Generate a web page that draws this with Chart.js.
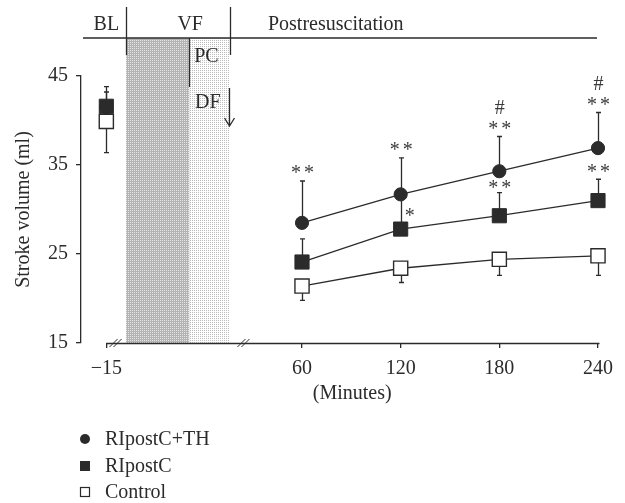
<!DOCTYPE html>
<html>
<head>
<meta charset="utf-8">
<script src="https://cdn.jsdelivr.net/npm/chart.js@4.4.0/dist/chart.umd.min.js"></script>
<style>
  html, body { margin: 0; padding: 0; background: #fff; }
  #wrap { width: 625px; height: 503px; }
</style>
</head>
<body>
<div id="wrap"><canvas id="svChart" width="625" height="503"></canvas></div>
<script>
// ---- data ----
const tickLabels = ['\u221215', '60', '120', '180', '240'];
// baseline (-15 min) sits left of the axis break, so it gets its own spot on the axis
const tickPositions = [-59, 60, 120, 180, 240];
const yTicks = [15, 25, 35, 45];
const seriesNames = ['RIpostC+TH', 'RIpostC', 'Control'];

const thMean   = [41.5, 28.5, 31.7, 34.3, 36.9];
const thErrUp  = [2.3, 4.7, 4.1, 3.9, 4.0];
const ripMean  = [41.6, 24.1, 27.8, 29.3, 31.0];
const ripErrUp = [1.6, 2.6, 3.6, 2.6, 2.4];
const ctlMean  = [39.9, 21.4, 23.4, 24.4, 24.8];
const ctlErrDn = [3.5, 1.6, 1.6, 1.8, 2.2];

// significance marks per time point
const thStars   = ['', '**', '**', '**', '**'];
const thHash    = ['', '', '', '#', '#'];
const ripStars  = ['', '', '', '**', '**'];
const ripSide   = ['', '', '*', '', ''];

// phases along the x axis (axis units)
const phaseBL = -47, phasePC = -8.4, phasePost = 16.2;
const breakMarks = [-53.4, 24.4];

const INK = '#2b2b2b';
const FONT = '"Liberation Serif", "Times New Roman", serif';

function makePattern(bg, dot, size, dots) {
    const c = document.createElement('canvas');
    c.width = size; c.height = size;
    const g = c.getContext('2d');
    g.fillStyle = bg; g.fillRect(0, 0, size, size);
    g.fillStyle = dot;
    dots.forEach(d => g.fillRect(d[0], d[1], 1, 1));
    return g.createPattern(c, 'repeat');
}

function pts(means) {
    return tickPositions.map((x, i) => ({ x: x, y: means[i] }));
}

const hideFirst = { borderColor: c => c.p0DataIndex === 0 ? 'rgba(0,0,0,0)' : INK };

// ---- decorations ----
const extras = {
    id: 'extras',
    beforeDatasetsDraw(chart) {
        const ctx = chart.ctx, xs = chart.scales.x, ys = chart.scales.y, a = chart.chartArea;
        const top = a.top - 38;
        ctx.save();
        ctx.fillStyle = makePattern('#b3b3b3', '#e6e6e6', 4, [[0, 0], [2, 2], [0, 2], [2, 0]]);
        ctx.fillRect(xs.getPixelForValue(phaseBL), top, xs.getPixelForValue(phasePC) - xs.getPixelForValue(phaseBL), a.bottom - top);
        ctx.fillStyle = makePattern('#ffffff', '#bcbcbc', 2, [[0, 0]]);
        ctx.fillRect(xs.getPixelForValue(phasePC), top, xs.getPixelForValue(phasePost) - xs.getPixelForValue(phasePC), a.bottom - top);

        // error bars
        ctx.strokeStyle = INK;
        ctx.lineWidth = 1.3;
        const bar = (x, y0, y1) => {
            const px = Math.round(xs.getPixelForValue(x)) + 0.5;
            const p0 = ys.getPixelForValue(y0), p1 = ys.getPixelForValue(y1);
            ctx.beginPath();
            ctx.moveTo(px, p0); ctx.lineTo(px, p1);
            ctx.moveTo(px - 2.5, p1); ctx.lineTo(px + 2.5, p1);
            ctx.stroke();
        };
        tickPositions.forEach((x, i) => {
            bar(x, thMean[i], thMean[i] + thErrUp[i]);
            bar(x, ripMean[i], ripMean[i] + ripErrUp[i]);
            bar(x, ctlMean[i], ctlMean[i] - ctlErrDn[i]);
        });
        ctx.restore();
    },
    afterDraw(chart) {
        const ctx = chart.ctx, xs = chart.scales.x, ys = chart.scales.y, a = chart.chartArea;
        const X = v => xs.getPixelForValue(v);
        ctx.save();
        ctx.strokeStyle = INK;
        ctx.fillStyle = INK;
        ctx.lineWidth = 1.3;

        // x axis line from the baseline tick on
        ctx.beginPath();
        ctx.moveTo(X(tickPositions[0]), a.bottom + 0.5);
        ctx.lineTo(X(240) + 1.5, a.bottom + 0.5);
        ctx.stroke();
        // axis break marks
        ctx.lineWidth = 1;
        breakMarks.forEach(v => {
            const cx = X(v);
            [-2, 2].forEach(d => {
                ctx.beginPath();
                ctx.moveTo(cx + d - 4, a.bottom + 4);
                ctx.lineTo(cx + d + 4, a.bottom - 4);
                ctx.stroke();
            });
        });

        // header strip
        ctx.lineWidth = 1.3;
        const hy = a.top - 38;
        ctx.beginPath();
        ctx.moveTo(a.left + 2, hy); ctx.lineTo(a.right - 1, hy);
        [phaseBL, phasePost].forEach(v => {
            const px = Math.round(X(v)) + 0.5;
            ctx.moveTo(px, a.top - 69); ctx.lineTo(px, a.top - 21);
        });
        const pcx = Math.round(X(phasePC)) - 0.5;
        ctx.moveTo(pcx, hy); ctx.lineTo(pcx, a.top + 11);
        // DF arrow
        const ax = Math.round(X(15.6)) + 0.5;
        ctx.moveTo(ax, a.top + 12); ctx.lineTo(ax, a.top + 50);
        ctx.moveTo(ax - 5, a.top + 42); ctx.lineTo(ax, a.top + 50); ctx.lineTo(ax + 5, a.top + 42);
        ctx.stroke();

        ctx.font = '20px ' + FONT;
        ctx.textBaseline = 'alphabetic';
        ctx.textAlign = 'center';
        ctx.fillText('BL', X(-59), 30);
        ctx.fillText('VF', X(-8), 30);
        ctx.textAlign = 'left';
        ctx.fillText('Postresuscitation', X(39.3), 30);
        ctx.fillText('PC', X(-5.6), a.top - 14);
        ctx.fillText('DF', X(-5), a.top + 32);

        // x title centred on the drawn axis line
        ctx.textAlign = 'center';
        ctx.textBaseline = 'middle';
        ctx.fillText('(Minutes)', (X(tickPositions[0]) + X(240)) / 2, 394);

        // significance marks
        const m = ctx.measureText('*');
        const starOff = (m.actualBoundingBoxAscent - m.actualBoundingBoxDescent) / 2 + 4;
        const mh = ctx.measureText('#');
        const hashOff = (mh.actualBoundingBoxAscent - mh.actualBoundingBoxDescent) / 2 + 4;
        ctx.textBaseline = 'alphabetic';
        ctx.fillStyle = '#3a3a3a';
        const stars = (x, cy, n) => {
            if (n === 2) {
                ctx.fillText('*', x - 6.5, cy + starOff);
                ctx.fillText('*', x + 6.5, cy + starOff);
            } else {
                ctx.fillText('*', x, cy + starOff);
            }
        };
        tickPositions.forEach((v, i) => {
            const px = X(v) + 0.5;
            if (thStars[i]) {
                const cap = ys.getPixelForValue(thMean[i] + thErrUp[i]);
                stars(px, cap - 10.5, 2);
                if (thHash[i]) ctx.fillText('#', px, cap - 10.5 - 18 + hashOff);
            }
            if (ripStars[i]) {
                const cap = ys.getPixelForValue(ripMean[i] + ripErrUp[i]);
                stars(px, cap - (i === 3 ? 7 : 10), 2);
            }
            if (ripSide[i]) {
                stars(px + 8.5, ys.getPixelForValue(ripMean[i]) - 16, 1);
            }
        });

        // legend
        ctx.fillStyle = INK;
        const rows = [439, 466, 492];
        ctx.textAlign = 'left';
        ctx.textBaseline = 'middle';
        rows.forEach((y, i) => {
            if (i === 0) {
                ctx.beginPath(); ctx.arc(85, y, 5, 0, Math.PI * 2); ctx.fill();
            } else if (i === 1) {
                ctx.fillRect(80, y - 5, 10, 10);
            } else {
                ctx.lineWidth = 1.2;
                ctx.strokeRect(80.5, y - 4.5, 9, 9);
            }
            ctx.fillText(seriesNames[i], 105, y + 1);
        });
        ctx.restore();
    }
};

const tickFont = { family: FONT, size: 20 };

new Chart(document.getElementById('svChart'), {
    type: 'line',
    data: {
        datasets: [
            {
                label: seriesNames[0], data: pts(thMean), order: 2,
                pointStyle: 'circle', pointRadius: 6.6, pointBorderWidth: 1,
                backgroundColor: INK, borderColor: INK, borderWidth: 1.3,
                segment: hideFirst, clip: false
            },
            {
                label: seriesNames[1], data: pts(ripMean), order: 1,
                pointStyle: 'rect', pointRadius: 10, pointBorderWidth: 1,
                backgroundColor: INK, borderColor: INK, borderWidth: 1.3,
                segment: hideFirst, clip: false
            },
            {
                label: seriesNames[2], data: pts(ctlMean), order: 0,
                pointStyle: 'rect', pointRadius: 10, pointBorderWidth: 1.4,
                pointBackgroundColor: '#ffffff', backgroundColor: '#ffffff',
                borderColor: INK, borderWidth: 1.3,
                segment: hideFirst, clip: false
            }
        ]
    },
    options: {
        responsive: false,
        animation: false,
        layout: { padding: { top: 76, right: 27, left: 0, bottom: 0 } },
        plugins: { legend: { display: false }, tooltip: { enabled: false } },
        scales: {
            x: {
                type: 'linear', min: -74.4, max: 240,
                afterBuildTicks: s => { s.ticks = tickPositions.map(v => ({ value: v })); },
                afterFit: s => { s.height = 160; },
                ticks: {
                    callback: v => tickLabels[tickPositions.indexOf(v)],
                    font: tickFont, color: INK, padding: 9, maxRotation: 0, autoSkip: false
                },
                grid: { display: true, drawOnChartArea: false, drawTicks: true, tickLength: 5, color: INK, lineWidth: 1.3 },
                border: { display: false }
            },
            y: {
                min: 15, max: 45,
                afterBuildTicks: s => { s.ticks = yTicks.map(v => ({ value: v })); },
                afterFit: s => { s.width = 81; },
                ticks: { font: tickFont, color: INK, padding: 8 },
                grid: { display: true, drawOnChartArea: false, drawTicks: true, tickLength: 5, color: INK, lineWidth: 1.3 },
                border: { display: true, color: INK, width: 1.3 },
                title: { display: true, text: 'Stroke volume (ml)', font: tickFont, color: INK, padding: { top: 12, bottom: 0 } }
            }
        }
    },
    plugins: [extras]
});
</script>
</body>
</html>
